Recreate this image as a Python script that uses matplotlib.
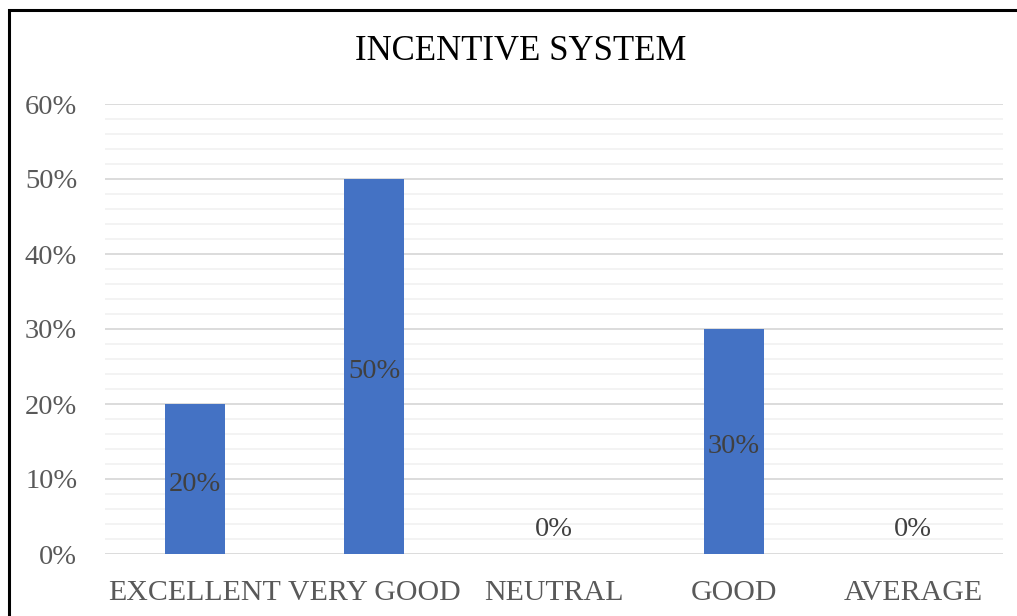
import matplotlib
matplotlib.use("Agg")
import matplotlib.pyplot as plt
from matplotlib.patches import Rectangle
from matplotlib.ticker import MultipleLocator, FuncFormatter

categories = ["EXCELLENT", "VERY GOOD", "NEUTRAL", "GOOD", "AVERAGE"]
values = [20, 50, 0, 30, 0]
y_ticks = [0, 10, 20, 30, 40, 50, 60]

plt.rcParams["font.family"] = ["Liberation Serif", "DejaVu Serif"]

W, H = 1017, 616
fig = plt.figure(figsize=(W / 100, H / 100), dpi=100)
fig.patch.set_facecolor("white")

# outer frame of the chart
fig.add_artist(Rectangle((9 / W, -0.02), 1.1, (H - 10) / H + 0.02,
                         transform=fig.transFigure, fill=False,
                         edgecolor="black", linewidth=2.2))

left, right = 105 / W, 1003 / W
bottom, top = 1 - 554 / H, 1 - 104 / H
ax = fig.add_axes([left, bottom, right - left, top - bottom])

x = range(len(categories))
ax.bar(x, values, width=0.335, color="#4472C4", zorder=3)

ax.set_xlim(-0.5, len(categories) - 0.5)
ax.set_ylim(0, 60)
ax.set_yticks(y_ticks)
ax.yaxis.set_minor_locator(MultipleLocator(2))
ax.yaxis.set_major_formatter(FuncFormatter(lambda v, p: f"{v:.0f}%"))
ax.grid(axis="y", which="major", color="#d9d9d9", linewidth=1.3, zorder=0)
ax.grid(axis="y", which="minor", color="#f2f2f2", linewidth=1.3, zorder=0)

for s in ax.spines.values():
    s.set_visible(False)
ax.tick_params(axis="both", which="both", length=0)
ax.tick_params(axis="y", labelsize=20.5, labelcolor="#595959", pad=20)
ax.tick_params(axis="x", labelsize=21.5, labelcolor="#595959", pad=19)
ax.set_xticks(list(x))
ax.set_xticklabels(categories)

for xi, v in zip(x, values):
    y = v / 2 - 0.7 if v > 0 else 3.3
    ax.text(xi, y, f"{v}%", ha="center", va="center", fontsize=20.5,
            color="#404040", zorder=4)

fig.text(521 / W, 1 - 51 / H, "INCENTIVE SYSTEM", ha="center",
         va="center", fontsize=25, color="black")

fig.savefig("out.png", dpi=100, facecolor="white")
